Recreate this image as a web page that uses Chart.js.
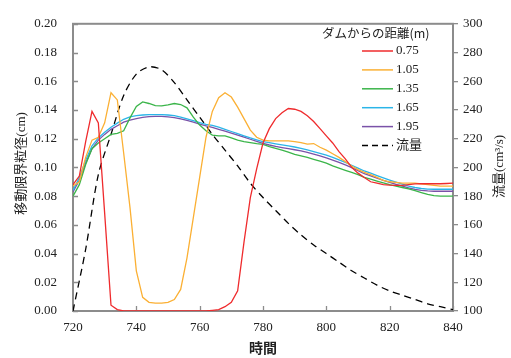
<!DOCTYPE html>
<html>
<head>
<meta charset="utf-8">
<script src="https://cdn.jsdelivr.net/npm/chart.js@4.4.1/dist/chart.umd.min.js"></script>
<style>
html, body { margin: 0; padding: 0; background: #fff; }
</style>
</head>
<body>
<canvas id="chart" width="511" height="358"></canvas>
<script>
// 時間 (min), 2分ごと
const times = [
  720, 722, 724, 726, 728, 730, 732, 734, 736, 738,
  740, 742, 744, 746, 748, 750, 752, 754, 756, 758,
  760, 762, 764, 766, 768, 770, 772, 774, 776, 778,
  780, 782, 784, 786, 788, 790, 792, 794, 796, 798,
  800, 802, 804, 806, 808, 810, 812, 814, 816, 818,
  820, 822, 824, 826, 828, 830, 832, 834, 836, 838,
  840
];

// 移動限界粒径 (cm) ダムからの距離ごと
const d075 = [
  0.088, 0.094, 0.118, 0.139, 0.131, 0.068, 0.004, 0.001, 0, 0,
  0, 0, 0, 0, 0, 0, 0, 0, 0, 0,
  0, 0, 0.0005, 0.001, 0.003, 0.006, 0.014, 0.048, 0.079, 0.099,
  0.117, 0.127, 0.134, 0.138, 0.141, 0.1405, 0.139, 0.136, 0.132, 0.127,
  0.122, 0.117, 0.111, 0.106, 0.100, 0.096, 0.093, 0.090, 0.089, 0.088,
  0.0877, 0.0875, 0.0875, 0.088, 0.0885, 0.0886, 0.0886, 0.0886, 0.0886, 0.0888,
  0.089
];
const d105 = [
  0.087, 0.090, 0.107, 0.119, 0.121, 0.131, 0.152, 0.147, 0.110, 0.072,
  0.028, 0.0095, 0.006, 0.0055, 0.0055, 0.006, 0.008, 0.015, 0.037, 0.065,
  0.093, 0.121, 0.139, 0.1485, 0.152, 0.149, 0.142, 0.134, 0.126, 0.121,
  0.119, 0.1185, 0.1185, 0.1185, 0.1185, 0.118, 0.1172, 0.1162, 0.1166, 0.114,
  0.112, 0.1095, 0.107, 0.104, 0.101, 0.0985, 0.0965, 0.095, 0.093, 0.091,
  0.090, 0.0895, 0.089, 0.089, 0.089, 0.0885, 0.088, 0.0875, 0.087, 0.087,
  0.087
];
const d135 = [
  0.080, 0.088, 0.102, 0.113, 0.117, 0.120, 0.123, 0.1237, 0.1255, 0.1345,
  0.1425, 0.1456, 0.1445, 0.143, 0.1428, 0.1435, 0.1445, 0.1438, 0.1415, 0.135,
  0.1295, 0.1255, 0.1225, 0.122, 0.122, 0.1205, 0.119, 0.118, 0.1173, 0.1165,
  0.116, 0.1145, 0.1132, 0.112, 0.1106, 0.109, 0.108, 0.107, 0.1056, 0.1043,
  0.103, 0.101, 0.0995, 0.098, 0.0965, 0.095, 0.093, 0.0918, 0.0905, 0.0893,
  0.088, 0.087, 0.086, 0.085, 0.0838, 0.0825, 0.0812, 0.0803, 0.080, 0.080,
  0.080
];
const d165 = [
  0.084, 0.093, 0.105, 0.115, 0.1205, 0.1245, 0.128, 0.1308, 0.1335, 0.1352,
  0.136, 0.1365, 0.1367, 0.1368, 0.1368, 0.1365, 0.136, 0.135, 0.1338, 0.1325,
  0.1312, 0.130, 0.1293, 0.128, 0.1265, 0.125, 0.1235, 0.122, 0.1205, 0.1192,
  0.118, 0.1172, 0.1164, 0.1157, 0.115, 0.1142, 0.1133, 0.1122, 0.111, 0.1098,
  0.1085, 0.107, 0.1053, 0.1035, 0.1015, 0.0995, 0.0975, 0.096, 0.0943, 0.0927,
  0.0912, 0.0897, 0.0883, 0.087, 0.086, 0.0853, 0.0849, 0.0848, 0.0848, 0.0848,
  0.0848
];
const d195 = [
  0.083, 0.091, 0.103, 0.113, 0.119, 0.123, 0.1265, 0.129, 0.1315, 0.133,
  0.134, 0.1348, 0.1353, 0.1355, 0.1355, 0.1352, 0.1347, 0.1338, 0.1327, 0.1315,
  0.1302, 0.129, 0.1278, 0.1265, 0.1252, 0.1238, 0.1224, 0.121, 0.1196, 0.1182,
  0.1168, 0.1156, 0.1146, 0.1138, 0.113, 0.1123, 0.1115, 0.1105, 0.1093, 0.108,
  0.1066, 0.1051, 0.1035, 0.1017, 0.0998, 0.0977, 0.0956, 0.0941, 0.0925, 0.091,
  0.0896, 0.0882, 0.0869, 0.0857, 0.0847, 0.084, 0.0836, 0.0834, 0.0834, 0.0834,
  0.0834
];

// 流量 (cm3/s), 4分ごと
const flowTimes = [
  720, 724, 728, 732, 736, 740, 744, 748, 752, 756,
  760, 764, 768, 772, 776, 780, 784, 788, 792, 796,
  800, 804, 808, 812, 816, 820, 824, 828, 832, 836,
  840
];
const flow = [
  100, 143, 195, 223, 250, 265, 270, 268, 259, 247,
  235, 223, 212, 201, 189, 179, 170, 161, 153, 146,
  140, 134, 128, 123, 118, 114, 111, 108, 105, 103,
  101
];

const distLabels = ["0.75", "1.05", "1.35", "1.65", "1.95", "流量"];
const colors = ["#ef2b2d", "#fbb034", "#3bb54a", "#2bb5e8", "#7a52a8", "#000000"];

const serif = '"Liberation Serif", "Noto Sans CJK JP", serif';
const sans = '"Noto Sans CJK JP", sans-serif';
const axisGray = "#8c8c8c";

function pts(xs, ys) {
  return xs.map((x, i) => ({ x: x, y: ys[i] }));
}

const series = [d075, d105, d135, d165, d195];
const datasets = series.map((s, i) => ({
  label: distLabels[i],
  data: pts(times, s),
  borderColor: colors[i],
  borderWidth: 1.3,
  pointRadius: 0,
  tension: 0,
  yAxisID: "y"
}));
datasets.push({
  label: distLabels[5],
  data: pts(flowTimes, flow),
  borderColor: colors[5],
  borderWidth: 1.3,
  borderDash: [7, 5],
  pointRadius: 0,
  tension: 0.3,
  yAxisID: "y2"
});

const decor = {
  id: "decor",
  beforeDatasetsDraw(chart) {
    const { ctx, chartArea: a, scales } = chart;
    ctx.save();
    ctx.strokeStyle = axisGray;
    ctx.lineWidth = 2;
    ctx.strokeRect(a.left, a.top, a.right - a.left, a.bottom - a.top);
    ctx.lineWidth = 1.3;
    ctx.beginPath();
    scales.y.ticks.forEach(t => {
      const py = Math.round(scales.y.getPixelForValue(t.value)) + 0.5;
      ctx.moveTo(a.left, py);
      ctx.lineTo(a.left + 5, py);
    });
    scales.x.ticks.forEach(t => {
      const px = Math.round(scales.x.getPixelForValue(t.value)) + 0.5;
      ctx.moveTo(px, a.bottom);
      ctx.lineTo(px, a.bottom - 5);
    });
    ctx.stroke();
    ctx.restore();
  },
  afterDraw(chart) {
    const { ctx, chartArea: a } = chart;
    ctx.save();
    ctx.fillStyle = "#222";
    ctx.textBaseline = "middle";

    // 軸タイトル
    ctx.font = "13px " + serif;
    ctx.textAlign = "center";
    ctx.save();
    ctx.translate(22, (a.top + a.bottom) / 2 - 4);
    ctx.rotate(-Math.PI / 2);
    ctx.fillText("移動限界粒径(cm)", 0, 0);
    ctx.restore();

    ctx.save();
    ctx.translate(500, (a.top + a.bottom) / 2 - 1);
    ctx.rotate(-Math.PI / 2);
    ctx.fillText("流量(cm³/s)", 0, 0);
    ctx.restore();

    ctx.font = "bold 14px " + serif;
    ctx.fillText("時間", (a.left + a.right) / 2, 349);

    // 凡例
    ctx.textAlign = "left";
    ctx.font = "12.5px " + sans;
    ctx.fillText("ダムからの距離(m)", 322, 33);
    ctx.font = "13px " + serif;
    chart.data.datasets.forEach((ds, i) => {
      const y = 51 + i * 18.9;
      ctx.save();
      ctx.strokeStyle = ds.borderColor;
      ctx.lineWidth = 1.5;
      if (ds.borderDash) ctx.setLineDash([6, 4]);
      ctx.beginPath();
      ctx.moveTo(362, y);
      ctx.lineTo(393, y);
      ctx.stroke();
      ctx.restore();
      ctx.fillText(ds.label, 396, y);
    });
    ctx.restore();
  }
};

new Chart(document.getElementById("chart").getContext("2d"), {
  type: "line",
  data: { datasets: datasets },
  options: {
    responsive: false,
    animation: false,
    layout: { padding: { top: 16, left: 0, right: 0, bottom: 0 } },
    plugins: {
      legend: { display: false },
      tooltip: { enabled: false }
    },
    scales: {
      x: {
        type: "linear",
        min: 720,
        max: 840,
        afterFit: s => { s.height = 47; },
        ticks: {
          stepSize: 20,
          padding: 9,
          color: "#222",
          font: { family: serif, size: 13 }
        },
        grid: { display: false, drawTicks: false },
        border: { display: false }
      },
      y: {
        position: "left",
        min: 0,
        max: 0.2,
        afterFit: s => { s.width = 73; },
        ticks: {
          stepSize: 0.02,
          padding: 16,
          color: "#222",
          font: { family: serif, size: 13 },
          callback: v => v.toFixed(2)
        },
        grid: { display: false, drawTicks: false },
        border: { display: false }
      },
      y2: {
        position: "right",
        min: 100,
        max: 300,
        afterFit: s => { s.width = 58; },
        ticks: {
          stepSize: 20,
          padding: 5,
          color: "#222",
          font: { family: serif, size: 13 }
        },
        grid: {
          drawOnChartArea: false,
          drawTicks: true,
          tickLength: 5,
          color: axisGray,
          lineWidth: 1.3
        },
        border: { display: false }
      }
    }
  },
  plugins: [decor]
});
</script>
</body>
</html>
